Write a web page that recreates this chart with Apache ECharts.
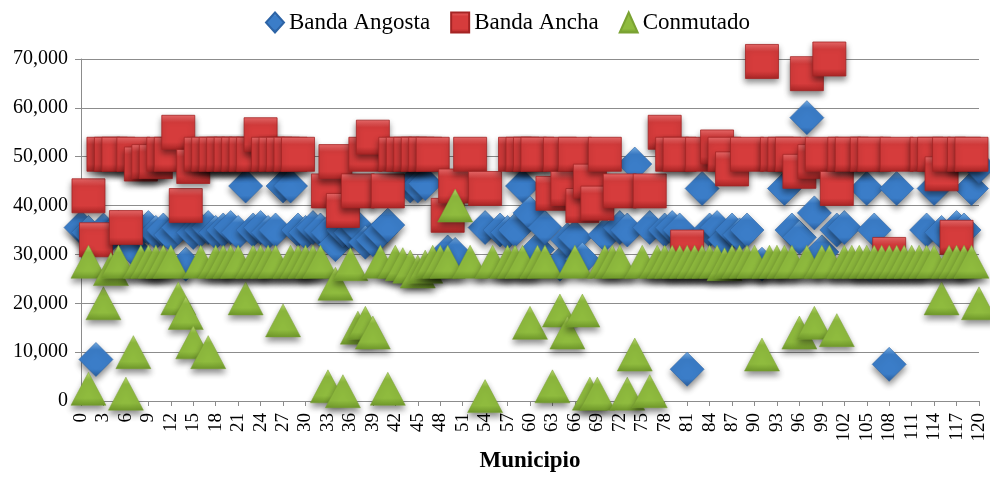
<!DOCTYPE html>
<html>
<head>
<meta charset="utf-8">
<script src="https://cdn.jsdelivr.net/npm/echarts@6/dist/echarts.min.js"></script>
<style>
  html, body { margin: 0; padding: 0; background: #ffffff; }
  #chart { width: 990px; height: 478px; }
</style>
</head>
<body>
<div id="chart"></div>
<script>
// Banda Angosta (narrowband) per municipio
const angostaMunicipio = [0,1,2,3,4,5,6,7,8,9,10,11,12,13,14,15,16,17,18,19,20,21,22,23,24,25,26,27,28,29,30,31,32,33,34,35,36,37,38,39,40,41,44,45,46,49,50,54,56,57,58,59,60,61,62,64,65,66,67,70,72,73,74,76,78,79,80,81,83,84,85,86,87,88,89,91,94,95,96,97,98,99,101,102,105,106,108,109,113,114,115,117,118,119,120];
const angostaValor = [35500,34500,8500,35000,34000,35500,34500,31000,35000,35500,34500,35000,34000,35500,28000,34500,35000,35500,34500,35000,35500,34500,44000,35000,35500,34500,35000,44000,44000,35000,34500,35500,35000,34500,32000,35000,34500,35500,32500,33000,34500,36000,44000,44000,44500,30500,30000,35500,35000,34500,35000,44000,38500,31000,35500,28000,33000,33500,29000,34000,35500,35000,48500,35500,35000,35500,35000,6500,43500,35000,35500,33000,35000,34000,35000,28000,43500,35000,33500,58000,38500,30500,35000,35500,43500,35000,7500,43500,35000,43500,34500,35500,35000,43500,48000];

// Banda Ancha (broadband) per municipio
const anchaMunicipio = [1,2,3,4,5,6,7,8,9,10,11,12,13,14,15,16,17,18,19,20,21,22,23,24,25,26,27,28,29,33,34,35,37,38,39,41,42,43,44,45,46,47,49,50,52,54,58,59,60,61,63,64,65,66,67,68,69,70,72,76,78,79,80,81,83,85,86,87,89,91,93,94,95,96,97,98,99,100,101,102,103,105,106,108,109,113,114,115,116,117,118,119];
const anchaValor = [42000,33000,50500,50500,50500,35500,50500,48500,49000,49000,50500,50500,55000,40000,48000,50500,50500,50500,50500,50500,50500,50500,50500,54500,50500,50500,50500,50500,50500,43000,49000,39000,43000,50500,54000,43000,50500,50500,50500,50500,50500,50500,38000,44000,50500,43500,50500,50500,50500,50500,42500,50500,43500,50500,40000,45000,40500,50500,43000,43000,55000,50500,50500,31500,50500,52000,50500,47500,50500,69500,50500,50500,50500,47000,67000,49000,50500,70000,43500,50500,50500,50500,50500,30000,50500,50500,50500,46500,50500,33500,50500,50500];

// Conmutado (dial-up) per municipio
const conmutadoMunicipio = [1,1,3,4,5,6,7,8,9,10,11,12,13,14,15,16,17,18,19,20,21,22,23,24,25,26,27,28,29,30,31,32,33,34,35,36,37,38,39,40,41,42,43,44,45,46,47,48,49,50,52,54,55,57,58,59,60,61,62,63,64,65,66,67,68,69,70,71,72,73,74,75,76,77,78,79,80,81,82,83,84,85,86,87,88,89,90,91,92,93,94,95,96,97,98,99,100,101,102,103,104,105,106,107,108,109,110,111,112,113,114,115,116,117,118,119,120];
const conmutadoValor = [2500,28500,20000,27000,28500,1500,10000,28500,28500,28500,28500,28500,21000,18000,12000,28500,10000,28500,28500,28500,28500,21000,28500,28500,28500,28500,16500,28500,28500,28500,28500,28500,3000,24000,2000,28000,15000,16000,14000,28500,2500,28500,28000,27500,26500,27500,28500,28500,28500,40000,28500,1000,28500,28500,28500,28500,16000,28500,28500,3000,18500,14000,28500,18500,1500,1500,28500,28500,28500,1500,9500,28500,2000,28500,28500,28500,28500,28500,28500,28500,28500,28500,28000,28500,28500,28500,28500,9500,28500,28500,28500,28500,14000,28500,16000,28500,28500,14500,28500,28500,28500,28500,28500,28500,28500,28500,28500,28500,28500,28500,28500,21000,28500,28500,28500,28500,20000];

const seriesNames = ['Banda Angosta', 'Banda Ancha', 'Conmutado'];
const serif = '"Liberation Serif", "Times New Roman", serif';

function pairs(xs, ys) {
  return xs.map((x, i) => [x, ys[i]]);
}

// vertical shading that gives each marker a bevelled look
function bevel(top, mid, bottom) {
  return new echarts.graphic.LinearGradient(0, 0, 0, 1, [
    { offset: 0, color: top },
    { offset: 0.22, color: mid },
    { offset: 0.78, color: mid },
    { offset: 1, color: bottom }
  ]);
}

const dropShadow = {
  opacity: 1,
  shadowColor: 'rgba(0,0,0,0.45)',
  shadowBlur: 6,
  shadowOffsetY: 4
};

const chart = echarts.init(document.getElementById('chart'), null, { renderer: 'canvas' });

chart.setOption({
  animation: false,
  backgroundColor: '#ffffff',
  grid: { left: 81, right: 11, top: 59, bottom: 75 },
  legend: {
    top: 6,
    left: 260,
    itemWidth: 18,
    itemHeight: 20,
    itemGap: 20,
    data: seriesNames,
    textStyle: { fontFamily: serif, fontSize: 23, color: '#000000' }
  },
  xAxis: {
    type: 'value',
    min: 0,
    max: 120,
    interval: 3,
    name: 'Municipio',
    nameLocation: 'middle',
    nameGap: 49,
    nameTextStyle: { fontFamily: serif, fontSize: 23, fontWeight: 'bold', color: '#000000' },
    axisLine: { show: true, onZero: false, lineStyle: { color: '#8c8c8c', width: 1 } },
    axisTick: { show: true, length: 5, lineStyle: { color: '#8c8c8c' } },
    axisLabel: { rotate: 90, fontFamily: serif, fontSize: 19, color: '#000000', margin: 12 },
    splitLine: { show: false }
  },
  yAxis: {
    type: 'value',
    min: 0,
    max: 70000,
    interval: 10000,
    axisLine: { show: true, lineStyle: { color: '#8c8c8c', width: 1 } },
    axisTick: { show: true, length: 6, lineStyle: { color: '#8c8c8c' } },
    axisLabel: {
      fontFamily: serif,
      fontSize: 20,
      color: '#000000',
      margin: 13,
      formatter: v => v.toLocaleString('en-US')
    },
    splitLine: { show: true, lineStyle: { color: '#8c8c8c', width: 1 } }
  },
  series: [
    {
      name: seriesNames[0],
      type: 'scatter',
      clip: false,
      symbol: 'diamond',
      symbolSize: [34, 34],
      data: pairs(angostaMunicipio, angostaValor),
      itemStyle: Object.assign({
        color: bevel('#76ade3', '#3b7dc8', '#285b9b'),
        borderColor: '#2d64a6',
        borderWidth: 0.6
      }, dropShadow),
      emphasis: { disabled: true }
    },
    {
      name: seriesNames[1],
      type: 'scatter',
      clip: false,
      symbol: 'rect',
      symbolSize: [33, 34],
      data: pairs(anchaMunicipio, anchaValor),
      itemStyle: Object.assign({
        color: bevel('#ea6a6a', '#d63c3c', '#a92626'),
        borderColor: '#a52424',
        borderWidth: 0.8
      }, dropShadow),
      emphasis: { disabled: true }
    },
    {
      name: seriesNames[2],
      type: 'scatter',
      clip: false,
      symbol: 'triangle',
      symbolSize: [35, 33],
      data: pairs(conmutadoMunicipio, conmutadoValor),
      itemStyle: Object.assign({
        color: bevel('#b9d870', '#8fbb3e', '#6f982b'),
        borderColor: '#7aa232',
        borderWidth: 0.5
      }, dropShadow),
      emphasis: { disabled: true }
    }
  ]
});
</script>
</body>
</html>
